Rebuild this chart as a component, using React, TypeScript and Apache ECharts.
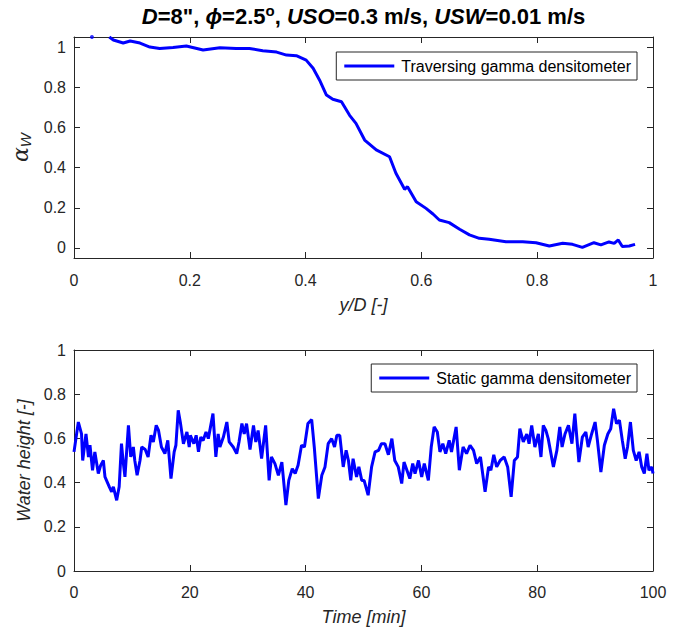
import React, { useEffect, useRef } from "react";
import * as echarts from "echarts";

// ---- Top panel: traversing gamma densitometer ----
const topYD = [0.061, 0.068, 0.085, 0.097, 0.114, 0.131, 0.148, 0.171, 0.194, 0.223, 0.252, 0.28, 0.303, 0.326, 0.35, 0.367, 0.384, 0.401, 0.413, 0.424, 0.436, 0.447, 0.462, 0.476, 0.487, 0.502, 0.522, 0.545, 0.556, 0.571, 0.576, 0.591, 0.608, 0.62, 0.631, 0.648, 0.666, 0.683, 0.7, 0.717, 0.746, 0.775, 0.798, 0.821, 0.844, 0.861, 0.878, 0.898, 0.91, 0.924, 0.933, 0.94, 0.947, 0.959, 0.969];
const topAlpha = [1.05, 1.035, 1.02, 1.03, 1.02, 1.0, 0.993, 0.998, 1.005, 0.985, 0.997, 0.993, 0.993, 0.982, 0.975, 0.96, 0.957, 0.935, 0.894, 0.836, 0.761, 0.74, 0.728, 0.66, 0.62, 0.537, 0.488, 0.454, 0.372, 0.292, 0.305, 0.23, 0.197, 0.169, 0.139, 0.126, 0.093, 0.065, 0.048, 0.043, 0.031, 0.031, 0.026, 0.01, 0.023, 0.018, 0.003, 0.026, 0.015, 0.03, 0.023, 0.04, 0.007, 0.01, 0.018];
const topDotYD = [0.031];
const topDotAlpha = [1.05];
const topXTicks = [0, 0.2, 0.4, 0.6, 0.8, 1];
const topYTicks = [0, 0.2, 0.4, 0.6, 0.8, 1];

// ---- Bottom panel: static gamma densitometer ----
const timeMin = [0, 0.75, 1.3, 1.5, 2.07, 2.5, 2.76, 3.2, 3.6, 4.2, 4.6, 5.07, 5.35, 6.1, 6.5, 6.8, 7.37, 7.8, 8.2, 8.5, 8.8, 9.4, 9.8, 10.25, 10.5, 10.9, 11.4, 11.7, 12.3, 12.8, 13.3, 13.7, 14.2, 14.6, 15.1, 15.7, 16.2, 16.75, 17.3, 17.6, 18.0, 18.4, 18.9, 19.5, 19.9, 20.1, 20.7, 21.1, 21.5, 21.9, 22.3, 22.8, 23.2, 24.0, 24.5, 24.9, 25.2, 25.8, 26.4, 26.8, 27.5, 28.1, 28.5, 29.0, 29.4, 29.8, 30.4, 31.0, 31.4, 31.8, 32.4, 33.1, 33.7, 34.1, 34.7, 35.3, 35.9, 36.6, 37.1, 37.7, 38.2, 38.7, 39.3, 39.8, 40.4, 41.05, 41.5, 42.2, 42.8, 43.35, 43.9, 44.5, 45.0, 45.4, 45.9, 46.5, 47.0, 47.4, 47.8, 48.2, 48.8, 49.2, 49.7, 50.1, 50.8, 51.4, 52.0, 52.6, 53.1, 53.7, 54.3, 54.9, 55.4, 56.0, 56.6, 57.0, 57.5, 58.0, 58.5, 58.9, 59.5, 60.05, 60.5, 61.2, 61.7, 62.2, 62.75, 63.2, 63.7, 64.2, 64.8, 65.2, 66.0, 66.55, 67.2, 67.8, 68.4, 69.0, 69.55, 70.2, 71.0, 71.6, 72.0, 72.5, 73.0, 73.6, 74.3, 74.9, 75.5, 76.05, 76.6, 77.0, 77.6, 78.2, 78.6, 79.05, 79.6, 80.2, 80.65, 81.05, 81.5, 81.9, 82.8, 83.4, 83.9, 84.3, 84.8, 85.4, 86.0, 86.5, 87.2, 87.8, 88.4, 88.8, 89.4, 90.0, 90.4, 91.0, 91.6, 92.2, 92.7, 93.2, 93.7, 94.2, 94.7, 95.2, 95.6, 96.1, 96.6, 97.1, 97.6, 98.05, 98.5, 98.95, 99.3, 99.8, 100];
const waterHeight = [0.539, 0.674, 0.62, 0.5, 0.62, 0.516, 0.569, 0.456, 0.539, 0.441, 0.478, 0.5, 0.426, 0.381, 0.358, 0.381, 0.32, 0.381, 0.576, 0.493, 0.426, 0.659, 0.516, 0.561, 0.5, 0.433, 0.5, 0.561, 0.55, 0.516, 0.614, 0.584, 0.659, 0.636, 0.561, 0.531, 0.591, 0.418, 0.539, 0.569, 0.727, 0.667, 0.576, 0.629, 0.561, 0.614, 0.576, 0.614, 0.539, 0.606, 0.59, 0.629, 0.599, 0.712, 0.516, 0.62, 0.561, 0.606, 0.674, 0.584, 0.561, 0.531, 0.584, 0.667, 0.62, 0.667, 0.55, 0.659, 0.584, 0.636, 0.509, 0.659, 0.41, 0.516, 0.486, 0.433, 0.493, 0.298, 0.41, 0.463, 0.441, 0.478, 0.569, 0.561, 0.667, 0.685, 0.561, 0.328, 0.433, 0.471, 0.576, 0.599, 0.561, 0.614, 0.614, 0.471, 0.546, 0.5, 0.41, 0.508, 0.426, 0.471, 0.41, 0.41, 0.343, 0.471, 0.539, 0.546, 0.576, 0.576, 0.526, 0.599, 0.5, 0.471, 0.396, 0.493, 0.456, 0.418, 0.486, 0.441, 0.5, 0.426, 0.486, 0.41, 0.561, 0.652, 0.629, 0.539, 0.576, 0.531, 0.591, 0.539, 0.652, 0.456, 0.561, 0.531, 0.569, 0.546, 0.486, 0.516, 0.358, 0.471, 0.456, 0.526, 0.471, 0.5, 0.516, 0.471, 0.336, 0.5, 0.516, 0.644, 0.584, 0.62, 0.576, 0.659, 0.561, 0.62, 0.516, 0.659, 0.636, 0.599, 0.471, 0.546, 0.652, 0.561, 0.62, 0.659, 0.576, 0.712, 0.493, 0.606, 0.629, 0.561, 0.62, 0.674, 0.591, 0.448, 0.569, 0.62, 0.644, 0.734, 0.667, 0.682, 0.591, 0.508, 0.561, 0.674, 0.546, 0.5, 0.539, 0.471, 0.441, 0.531, 0.456, 0.471, 0.441];
const bottomXTicks = [0, 20, 40, 60, 80, 100];
const bottomYTicks = [0, 0.2, 0.4, 0.6, 0.8, 1];

const TITLE_RICH =
  '{i|D}{n|=8", }{i|ϕ}{n|=2.5}{s|o}{n|, }{i|USO}{n|=0.3 m/s, }{i|USW}{n|=0.01 m/s}';

const FONT = "'Liberation Sans', Arial, Helvetica, sans-serif";
const AXC = "#262626";
const BLUE = "#0000ff";

function baseAxis(extra: any) {
  return {
    type: "value",
    axisLine: { show: true, onZero: false, lineStyle: { color: AXC, width: 1 } },
    axisTick: { show: true, inside: true, length: 6, lineStyle: { color: AXC, width: 1 } },
    splitLine: { show: false },
    axisLabel: { color: AXC, fontSize: 16, fontFamily: FONT },
    ...extra,
  };
}

function legendBox(name: string, top: number) {
  return {
    data: [{ name, icon: "rect" }],
    right: 39, top,
    orient: "horizontal",
    itemWidth: 50, itemHeight: 3,
    padding: [6, 6, 6, 8],
    borderColor: AXC, borderWidth: 1, borderRadius: 0,
    backgroundColor: "#ffffff",
    textStyle: { color: "#000", fontSize: 16, fontFamily: FONT, padding: [0, 0, 0, 2] },
    selectedMode: false,
  };
}

export default function App() {
  const ref = useRef<HTMLDivElement>(null);
  useEffect(() => {
    if (!ref.current) return;
    const chart = echarts.init(ref.current, null, { renderer: "svg" });
    const topLine = topYD.map((x, i) => [x, topAlpha[i]]);
    const topDot = topDotYD.map((x, i) => [x, topDotAlpha[i]]);
    const botLine = timeMin.map((t, i) => [t, waterHeight[i]]);

    const topX = { min: 0, max: 1, interval: 0.2 };
    const topY = { min: -0.05, max: 1.05 };
    const botX = { min: 0, max: 100, interval: 20 };
    const botY = { min: 0, max: 1, interval: 0.2 };
    const tick = (vals: number[]) => ({ show: true, inside: true, length: 6, lineStyle: { color: AXC }, customValues: vals });

    const option: any = {
      animation: false,
      grid: [
        { left: 74, top: 37, width: 579, height: 221, containLabel: false },
        { left: 74, top: 350, width: 579, height: 221, containLabel: false },
      ],
      xAxis: [
        baseAxis({
          gridIndex: 0, position: "bottom", ...topX,
          axisLabel: { color: AXC, fontSize: 16, fontFamily: FONT, margin: 14, customValues: topXTicks },
          axisTick: tick(topXTicks),
          name: "y/D [-]", nameLocation: "middle", nameGap: 38,
          nameTextStyle: { color: AXC, fontSize: 18, fontStyle: "italic", fontFamily: FONT },
        }),
        baseAxis({
          gridIndex: 0, position: "top", ...topX,
          axisLabel: { show: false },
          axisTick: tick(topXTicks),
        }),
        baseAxis({
          gridIndex: 1, position: "bottom", ...botX,
          axisLabel: { color: AXC, fontSize: 16, fontFamily: FONT, margin: 13, customValues: bottomXTicks },
          axisTick: tick(bottomXTicks),
          name: "Time [min]", nameLocation: "middle", nameGap: 37,
          nameTextStyle: { color: AXC, fontSize: 18, fontStyle: "italic", fontFamily: FONT },
        }),
        baseAxis({
          gridIndex: 1, position: "top", ...botX,
          axisLabel: { show: false },
          axisTick: tick(bottomXTicks),
        }),
      ],
      yAxis: [
        baseAxis({
          gridIndex: 0, position: "left", ...topY,
          axisLabel: { color: AXC, fontSize: 16, fontFamily: FONT, margin: 8, customValues: topYTicks },
          axisTick: tick(topYTicks),
          name: "{a|α}{w|W}", nameLocation: "middle", nameGap: 38, nameRotate: 90,
          nameTextStyle: {
            color: AXC,
            rich: {
              a: { fontSize: 22, fontStyle: "italic", fontFamily: "'DejaVu Serif', serif", color: AXC },
              w: { fontSize: 15, fontStyle: "italic", fontFamily: FONT, color: AXC, verticalAlign: "bottom", padding: [9, 0, 0, 0] },
            },
          },
        }),
        baseAxis({
          gridIndex: 0, position: "right", ...topY,
          axisLabel: { show: false },
          axisTick: tick(topYTicks),
        }),
        baseAxis({
          gridIndex: 1, position: "left", ...botY,
          axisLabel: { color: AXC, fontSize: 16, fontFamily: FONT, margin: 8, customValues: bottomYTicks },
          axisTick: tick(bottomYTicks),
          name: "Water height [-]", nameLocation: "middle", nameGap: 37, nameRotate: 90,
          nameTextStyle: { color: AXC, fontSize: 18, fontStyle: "italic", fontFamily: FONT },
        }),
        baseAxis({
          gridIndex: 1, position: "right", ...botY,
          axisLabel: { show: false },
          axisTick: tick(bottomYTicks),
        }),
      ],
      legend: [
        legendBox("Traversing gamma densitometer", 52),
        legendBox("Static gamma densitometer", 364),
      ],
      graphic: [
        {
          type: "text",
          x: 363.5,
          y: 15,
          style: {
            text: TITLE_RICH,
            align: "center",
            verticalAlign: "middle",
            fill: "#000",
            font: `bold 22px ${FONT}`,
            rich: {
              n: { fontSize: 22, fontWeight: "bold", fontFamily: FONT, fill: "#000", verticalAlign: "bottom" },
              i: { fontSize: 22, fontWeight: "bold", fontStyle: "italic", fontFamily: FONT, fill: "#000", verticalAlign: "bottom" },
              s: { fontSize: 15, fontWeight: "bold", fontFamily: FONT, fill: "#000", verticalAlign: "top", padding: [0, 0, 9, 0] },
            },
          },
        },
      ],
      series: [
        {
          name: "Traversing gamma densitometer",
          type: "line",
          xAxisIndex: 0, yAxisIndex: 0,
          data: topLine,
          symbol: "none",
          lineStyle: { color: BLUE, width: 3 },
          itemStyle: { color: BLUE },
        },
        {
          name: "dot",
          type: "scatter",
          xAxisIndex: 0, yAxisIndex: 0,
          data: topDot,
          symbolSize: 4,
          itemStyle: { color: BLUE },
          clip: false,
        },
        {
          name: "Static gamma densitometer",
          type: "line",
          xAxisIndex: 2, yAxisIndex: 2,
          data: botLine,
          symbol: "none",
          lineStyle: { color: BLUE, width: 3 },
          itemStyle: { color: BLUE },
        },
      ],
    };
    chart.setOption(option);
    return () => chart.dispose();
  }, []);
  return (
    <div
      ref={ref}
      style={{ position: "fixed", left: 0, top: 0, width: 676, height: 632, background: "#fff" }}
    />
  );
}
